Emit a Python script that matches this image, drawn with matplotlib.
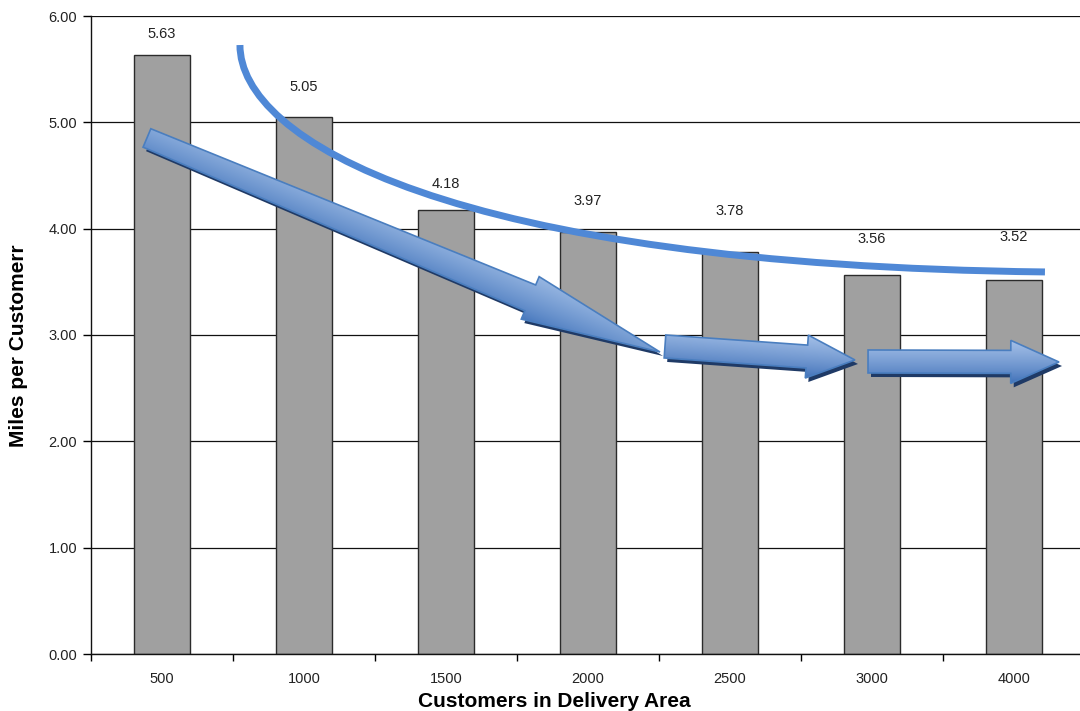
import numpy as np
import matplotlib
matplotlib.use("Agg")
import matplotlib.pyplot as plt
from matplotlib.patches import Polygon, PathPatch
from matplotlib.path import Path
from matplotlib.colors import to_rgb

# Chart data
categories = ["500", "1000", "1500", "2000", "2500", "3000", "4000"]
miles_per_customer = [5.63, 5.05, 4.18, 3.97, 3.78, 3.56, 3.52]
y_ticks = [0, 1, 2, 3, 4, 5, 6]

# Vertical gap (pixels) between each bar top and its value label
label_gap_px = [21, 30, 26, 31, 41, 36, 43]

plt.rcParams['font.family'] = ['Liberation Sans', 'DejaVu Sans']

W, H = 1080, 711
fig = plt.figure(figsize=(W / 100, H / 100), dpi=100)
ax = fig.add_axes([91 / W, 57 / H, 989 / W, 638 / H])

x = np.arange(len(categories))
ax.bar(x, miles_per_customer, width=0.395, color='#a0a0a0',
       edgecolor='#2b2b2b', linewidth=1.0, zorder=2)

for xi, v, gap in zip(x, miles_per_customer, label_gap_px):
    ax.annotate(f"{v:.2f}", (xi, v), xytext=(0, gap * 0.72),
                textcoords='offset points', ha='center', va='center',
                fontsize=10.5, color='#222222', zorder=6)

ax.set_xlim(-0.5, -0.5 + 989 / 142)
ax.set_ylim(0, 6)

# y axis
ax.set_yticks(y_ticks)
ax.set_yticklabels([f"{t:.2f}" for t in y_ticks], fontsize=10.5, color='#222222')
ax.tick_params(axis='y', direction='out', length=6, width=1, pad=4)
ax.yaxis.grid(True, color='#111111', linewidth=0.9)
ax.set_axisbelow(True)

# x axis: tick marks between categories, labels under the bars
ax.set_xticks(np.arange(len(categories) + 1) - 0.5)
ax.set_xticklabels([])
ax.tick_params(axis='x', which='major', direction='out', length=5, width=1)
ax.set_xticks(x, minor=True)
ax.set_xticklabels(categories, minor=True, fontsize=10.5, color='#222222')
ax.tick_params(axis='x', which='minor', length=0, pad=13)

for s in ('top', 'right'):
    ax.spines[s].set_visible(False)
for s in ('left', 'bottom'):
    ax.spines[s].set_color('#111111')
    ax.spines[s].set_linewidth(1.0)

ax.set_xlabel("Customers in Delivery Area", fontsize=15, fontweight='bold')
ax.xaxis.set_label_coords(0.468, -0.059)
ax.set_ylabel("Miles per Customerr", fontsize=15, fontweight='bold')
ax.yaxis.set_label_coords(-0.064, 0.484)

# Trend curve above the bars
curve_pts = [(0.549, 5.727), (0.549, 4.834), (2.028, 3.658), (6.218, 3.593)]
curve = Path(curve_pts, [Path.MOVETO, Path.CURVE4, Path.CURVE4, Path.CURVE4])
ax.add_patch(PathPatch(curve, facecolor='none', edgecolor='#4f88d6',
                       linewidth=5, capstyle='butt', zorder=5))

to_disp = ax.transData.transform
to_data = ax.transData.inverted().transform


def block_arrow(tail, tip, w_tail, w_shaft, w_head, head_len,
                light='#a4c0e8', dark='#3f70b8'):
    """Draw a shaded block arrow; tail/tip in data units, sizes in pixels."""
    t = to_disp(tail)
    p = to_disp(tip)
    d = p - t
    L = np.hypot(*d)
    u = d / L
    n = np.array([-u[1], u[0]])
    base = p - u * head_len
    pts = np.array([
        t + n * w_tail / 2,
        base + n * w_shaft / 2,
        base + n * w_head / 2,
        p,
        base - n * w_head / 2,
        base - n * w_shaft / 2,
        t - n * w_tail / 2,
    ])
    # drop shadow
    shadow = pts + np.array([3, -4])
    ax.add_patch(Polygon(to_data(shadow), closed=True, facecolor='#1f3a66',
                         edgecolor='none', zorder=7))
    body = Polygon(to_data(pts), closed=True, facecolor='none',
                   edgecolor='#4a7ebf', linewidth=1.2, zorder=9)
    # gradient across the arrow width
    x0, y0 = pts.min(axis=0) - 2
    x1, y1 = pts.max(axis=0) + 2
    nx, ny = int(x1 - x0) + 1, int(y1 - y0) + 1
    gx, gy = np.meshgrid(np.linspace(x0, x1, nx), np.linspace(y0, y1, ny))
    proj = (gx - t[0]) * n[0] + (gy - t[1]) * n[1]
    f = np.clip((proj + w_head / 2) / w_head, 0, 1)  # 0 bottom, 1 top
    f = f ** 0.8
    c_l = np.array(to_rgb(light))
    c_d = np.array(to_rgb(dark))
    img = c_d[None, None, :] * (1 - f[..., None]) + c_l[None, None, :] * f[..., None]
    (dx0, dy0), (dx1, dy1) = to_data([(x0, y0), (x1, y1)])
    im = ax.imshow(img, extent=(dx0, dx1, dy0, dy1), origin='lower',
                   aspect='auto', interpolation='bilinear', zorder=8)
    ax.add_patch(body)
    im.set_clip_path(body)


block_arrow((-0.106, 4.853), (3.507, 2.840), 20, 28, 46, 140,
            light='#98b7e2', dark='#4677bd')
block_arrow((3.542, 2.892), (4.880, 2.765), 23, 23, 43, 48)
block_arrow((4.972, 2.751), (6.317, 2.746), 23, 23, 43, 48)

ax.set_xlim(-0.5, -0.5 + 989 / 142)
ax.set_ylim(0, 6)

fig.savefig("out.png", dpi=100, facecolor='white')
